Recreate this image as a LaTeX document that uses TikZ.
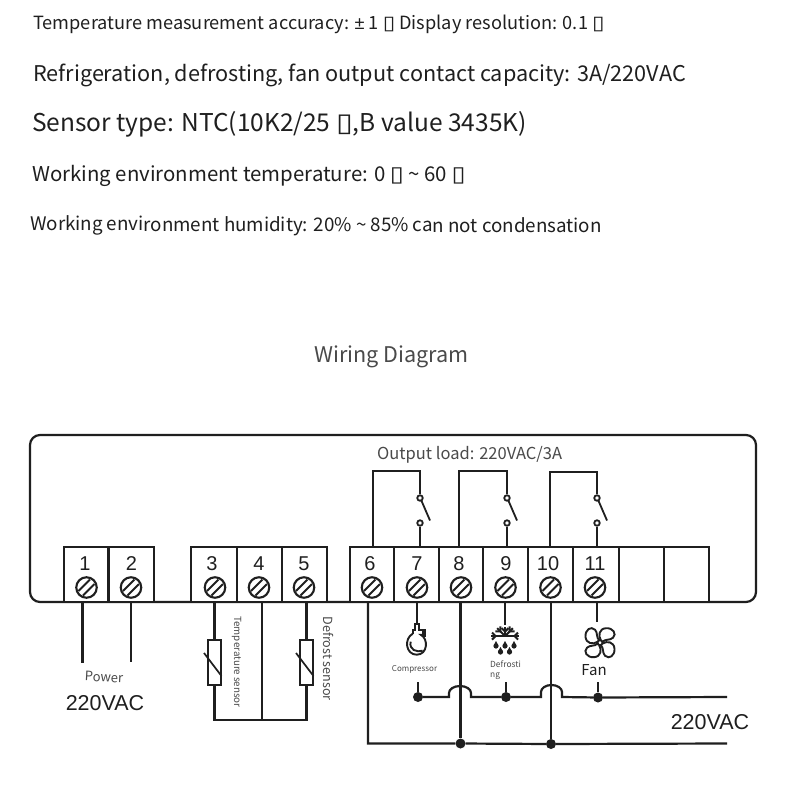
\documentclass[tikz,border=0pt]{standalone}
\usepackage{fontspec}
\setmainfont{Noto Sans CJK SC}
\newfontfamily\arialf{Liberation Sans}
\newfontfamily\dejav{DejaVu Sans}
\newcommand{\tofu}{{\dejav\scalebox{1.25}[1.05]{▯}}}
\newcommand{\pmk}{{\arialf ±}}
\newcommand{\fs}[1]{\fontsize{#1}{#1}\selectfont}
\usetikzlibrary{calc}
\definecolor{ink}{HTML}{1F1F1F}
\definecolor{soft}{HTML}{4A4A4A}
\tikzset{
 wire/.style={draw=ink,line width=2.2pt,line join=miter},
 termbox/.style={draw=ink,line width=2.2pt,fill=white,minimum height=55pt,inner sep=0pt,outer sep=0pt},
 termnum/.style={font=\arialf\fs{20},text=ink,inner sep=0pt},
 screw/.style={circle,draw=ink,line width=2.1pt,minimum size=20.5pt,inner sep=0pt,
   path picture={\draw[ink,line width=1.8pt]
     ([shift={(-8pt,-3.5pt)}]path picture bounding box.center) -- ([shift={(3.5pt,8pt)}]path picture bounding box.center)
     ([shift={(-3.5pt,-8pt)}]path picture bounding box.center) -- ([shift={(8pt,3.5pt)}]path picture bounding box.center);}},
 contact/.style={circle,draw=ink,line width=1.8pt,fill=white,minimum size=5.5pt,inner sep=0pt},
 junction/.style={circle,fill=ink,minimum size=10pt,inner sep=0pt},
 resistor/.style={draw=ink,line width=2.2pt,fill=white,minimum width=13pt,minimum height=45pt,inner sep=0pt},
 spec/.style={anchor=west,inner sep=0pt,text=ink},
 note/.style={inner sep=0pt,text=soft},
}
\begin{document}
\begin{tikzpicture}[x=1pt,y=-1pt]
\path[use as bounding box,fill=white] (0,0) rectangle (790,808);
% spec lines
\node[spec,font=\fs{18.2}] (s1) at (33,24.5) {Temperature measurement accuracy: \pmk\ 1 \tofu\ Display resolution: 0.1 \tofu};
\node[spec,font=\fs{21.65}] (s2) at (33,75) {Refrigeration, defrosting, fan output contact capacity: 3A/220VAC};
\node[spec,font=\fs{24.5}] (s3) at (32,124.5) {Sensor type: NTC(10K2/25 \tofu,B value 3435K)};
\node[spec,font=\fs{20.4}] (s4) at (32,175.5) {Working environment temperature: 0 \tofu\ \textasciitilde\ 60 \tofu};
\node[spec,font=\fs{18.75},rotate=-0.2] (s5) at (30,225.5) {Working environment humidity: 20\% \textasciitilde\ 85\% can not condensation};
\node[note,font=\fs{21.6}] (title) at (391.5,357) {Wiring Diagram};
% housing
\node[draw=ink,line width=2.2pt,rounded corners=10pt,minimum width=726pt,minimum height=167pt,inner sep=0pt,outer sep=0pt] (case) at (393,518.5) {};
\node[note,font=\fs{16.5},anchor=west] (load) at (377,455) {Output load: 220VAC/3A};
% terminals
\foreach \n/\xa/\xb/\numx/\scx in {1/64/108.5/85/86.5,2/108.5/154/131.5/131,3/191/237/212/215,4/237/282/259/259,5/282/327/304/304,6/350/394/370/372,7/394/439/417/417,8/439/483/459/461,9/483/528/506/505.5,10/528/573/548/550.5,11/573/619/595/595}{
  \pgfmathsetlengthmacro{\tw}{\xb-\xa}
  \node[termbox,minimum width=\tw] (t\n) at ({(\xa+\xb)/2},574.5) {};
  \node[termnum] (n\n) at (\numx,563.5) {\n};
  \node[screw] (sc\n) at (\scx,587.5) {};
}
\node[termbox,minimum width=45pt] (tA) at (641.5,574.5) {};
\node[termbox,minimum width=45pt] (tB) at (686.5,574.5) {};
% power
\coordinate (p1) at (82.5,663);
\coordinate (p2) at (131,662);
\draw[wire] (p1 |- t1.south) -- (p1);
\draw[wire] (p2 |- t2.south) -- (p2);
\node[note,font=\fs{13},rotate=-3] (pw) at (104,677) {Power};
\node[note,font=\arialf\fs{21.5},text=ink] (v1) at (105,703) {220VAC};
% sensors
\node[resistor] (r3) at (214.5,662.5) {};
\node[resistor] (r5) at (306.5,662.5) {};
\coordinate (b3) at (214.5,720);
\coordinate (b4) at (262,720);
\coordinate (b5) at (306.5,720);
\draw[wire] (b3 |- t3.south) -- (r3.north);
\draw[wire] (r3.south) -- (b3) -- (b5) -- (r5.south);
\draw[wire] (r5.north) -- (b5 |- t5.south);
\draw[wire] (b4 |- t4.south) -- (b4);
\draw[wire,line width=1.7pt] ([shift={(-10.5pt,9.5pt)}]r3.center) -- ([shift={(7pt,-13.5pt)}]r3.center);
\draw[wire,line width=1.7pt] ([shift={(-10.5pt,9.5pt)}]r5.center) -- ([shift={(7pt,-13.5pt)}]r5.center);
\node[note,font=\fs{9.8},rotate=-90] (ts) at (236.5,662) {Temperature sensor};
\node[note,font=\fs{12.6},rotate=-90] (ds) at (329,658.5) {Defrost sensor};
% relays
\foreach \a/\b/\xl/\xr/\yt/\dx in {6/7/373/420/471/10,8/9/459/507/471/10,10/11/550/597/472/10}{
  \node[contact] (cu\b) at (\xr,498) {};
  \node[contact] (cl\b) at (\xr,523) {};
  \coordinate (hl\a) at (\xl,\yt);
  \coordinate (hr\a) at (\xr,\yt);
  \coordinate (bl\b) at (\xr+\dx,520.5);
  \draw[wire] (hl\a |- t\a.north) -- (hl\a) -- (hr\a) -- (cu\b.north);
  \draw[wire] (cl\b.south) -- (cl\b |- t\b.north);
  \draw[wire,line width=1.8pt] (cu\b) ++(1.4,2.6) -- (bl\b);
}
% load feeds
\coordinate (i7) at (417,625);
\coordinate (i9) at (505,625);
\coordinate (i11) at (597,622);
\foreach \k in {7,9,11}{\draw[wire] (i\k |- t\k.south) -- (i\k);}
% compressor icon
\begin{scope}[shift={(416.7,644.7)},line width=1.9pt,draw=ink]
  \draw (-4,-11) .. controls (-13,-6) and (-11,10) .. (0,10) .. controls (11,10) and (12,-6) .. (4,-10) -- (7,-10);
  \draw (-4,-11) -- (-4,-15) -- (-2,-15) -- (-2,-21) -- (2,-21) -- (2,-15) -- (6,-15);
  \draw (-6,-3) .. controls (-8,5) and (0,8) .. (6,6);
  \fill[ink] (5.5,-16) rectangle (9.5,-8);
\end{scope}
% snowflake icon
\begin{scope}[shift={(505,636)},draw=ink,line width=2.1pt]
  \foreach \ang/\len in {-90/14,-45/11,0/9,45/11,90/14}{
    \begin{scope}[rotate=\ang]
      \draw (0,0) -- (0,-\len);
      \draw (-3.5,-\len+1) -- (0,-\len+4.5) -- (3.5,-\len+1);
    \end{scope}}
  \foreach \dxx/\dyy in {-9/10,0/10,9/10,-4.5/16,4.5/16}{
    \fill[ink] (\dxx,\dyy) circle (2.6);
    \fill[ink] (\dxx-2.3,\dyy-0.8) -- (\dxx,\dyy-5) -- (\dxx+2.3,\dyy-0.8) -- cycle;}
\end{scope}
% fan icon
\begin{scope}[shift={(600,642.7)},draw=ink,line width=1.9pt]
  \draw (0,0) circle (2.5);
  \foreach \ang in {0,90,180,270}{
    \begin{scope}[rotate=\ang]
      \draw (0.8,-2.6) .. controls (-2,-7) and (-1,-14) .. (6,-14.5) .. controls (13,-15) and (17,-9) .. (13,-5) .. controls (10,-2) and (5,-4) .. (2.5,-0.8);
    \end{scope}}
\end{scope}
\node[note,font=\fs{8}] (cmp) at (414.5,669) {Compressor};
\node[note,font=\fs{8.4},align=left,anchor=north west] (dfr) at (490,660.5) {Defrosti\\[1.2pt]ng};
\node[note,font=\fs{15},text=ink] (fan) at (594,670) {Fan};
% load bus
\node[junction] (j7) at (418,697) {};
\node[junction] (j9) at (506,697) {};
\node[junction] (j11) at (598,697.5) {};
\coordinate (e7) at (418,682);
\coordinate (e9) at (506,682);
\coordinate (e11) at (598,682);
\draw[wire] (e7) -- (j7);
\draw[wire] (e9) -- (j9);
\draw[wire] (e11) -- (j11);
\coordinate (busend) at (727,697);
\draw[wire] (j7) -- (449,697) -- (449,693) arc[start angle=180,end angle=360,x radius=11,y radius=7] -- (471,697)
  -- (j9) -- (541,697) -- (541,692) arc[start angle=180,end angle=360,x radius=10.5,y radius=7] -- (562,697) -- (j11) -- (busend);
% neutral bus
\node[junction] (j8) at (460.5,743.5) {};
\node[junction] (j10) at (551,744) {};
\coordinate (c6) at (368,743.5);
\coordinate (nend) at (727,743.5);
\draw[wire] (c6 |- t6.south) -- (c6) -- (j8) -- (j10) -- (nend);
\draw[wire] (j8 |- t8.south) -- (j8);
\draw[wire] (j10 |- t10.south) -- (j10);
\node[note,font=\arialf\fs{21.5},text=ink] (v2) at (710,722) {220VAC};
\end{tikzpicture}
\end{document}
